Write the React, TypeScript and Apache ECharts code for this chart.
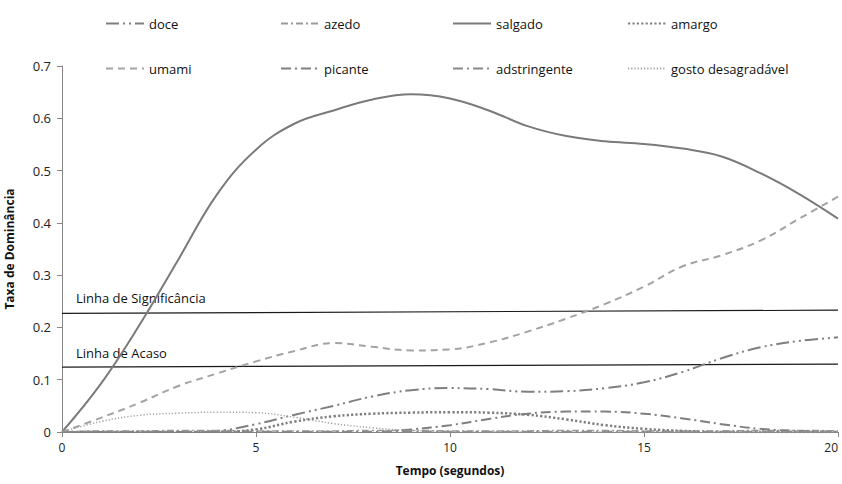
import React, { useEffect, useRef } from "react";
import * as echarts from "echarts";

const times = [0, 1, 2, 3, 4, 5, 6, 7, 8, 9, 10, 11, 12, 13, 14, 15, 16, 17, 18, 19, 20];

const doce = [0, 0, 0, 0, 0.002, 0.015, 0.033, 0.05, 0.068, 0.08, 0.084, 0.082, 0.077, 0.078, 0.084, 0.095, 0.115, 0.141, 0.162, 0.174, 0.181];
const azedo = [0, 0.002, 0.002, 0.003, 0.003, 0.002, 0.002, 0.002, 0.003, 0.003, 0.002, 0.002, 0.002, 0.003, 0.003, 0.002, 0.002, 0.002, 0.003, 0.003, 0.002];
const salgado = [0, 0.092, 0.205, 0.33, 0.455, 0.54, 0.59, 0.615, 0.636, 0.646, 0.638, 0.615, 0.585, 0.566, 0.556, 0.551, 0.542, 0.527, 0.495, 0.455, 0.408];
const amargo = [0, 0, 0, 0, 0, 0.005, 0.02, 0.03, 0.035, 0.037, 0.038, 0.037, 0.033, 0.024, 0.013, 0.006, 0.002, 0, 0, 0, 0];
const umami = [0, 0.027, 0.056, 0.088, 0.112, 0.135, 0.155, 0.17, 0.163, 0.156, 0.158, 0.171, 0.192, 0.217, 0.245, 0.278, 0.317, 0.338, 0.366, 0.408, 0.45];
const picante = [0, 0, 0, 0, 0, 0, 0, 0, 0, 0.005, 0.013, 0.025, 0.035, 0.039, 0.039, 0.035, 0.026, 0.015, 0.006, 0.002, 0];
const adstringente = [0, 0.001, 0.001, 0.001, 0.001, 0.001, 0.001, 0.001, 0.001, 0.001, 0.001, 0.001, 0.001, 0.001, 0.001, 0.001, 0.001, 0.001, 0.001, 0.001, 0.001];
const gosto = [0, 0.02, 0.032, 0.036, 0.038, 0.037, 0.028, 0.016, 0.008, 0.003, 0.001, 0, 0, 0, 0, 0, 0, 0, 0, 0, 0];

const sigLine = [0.227, 0.233];
const acasoLine = [0.124, 0.13];
const lineTimes = [0, 20];

const FONT = "'Open Sans', 'Liberation Sans', sans-serif";

function pairs(vals: number[]) {
  return times.map((t, i) => [t, vals[i]]);
}

export default function App() {
  const ref = useRef<HTMLDivElement>(null);
  useEffect(() => {
    document.body.style.margin = "0";
    if (!ref.current) return;
    const chart = echarts.init(ref.current, undefined, { renderer: "svg" });
    const mk = (name: string, vals: number[], color: string, width: number, dash: any) => ({
      name,
      type: "line",
      data: pairs(vals),
      smooth: 0.4,
      showSymbol: false,
      symbol: "none",
      lineStyle: { color, width, type: dash },
      itemStyle: { color },
      z: 3,
    });
    const legendBase = {
      orient: "vertical",
      top: 12,
      itemWidth: 38,
      itemHeight: 14,
      itemGap: 32,
      itemStyle: { opacity: 0 },
      textStyle: { fontFamily: FONT, fontSize: 13, color: "#111" },
    };
    chart.setOption({
      animation: false,
      grid: { left: 62, right: 4, top: 66, bottom: 52, outerBoundsMode: "none", containLabel: false },
      legend: [
        { ...legendBase, left: 100, data: ["doce", "umami"] },
        { ...legendBase, left: 275, data: ["azedo", "picante"] },
        { ...legendBase, left: 447, data: ["salgado", "adstringente"] },
        { ...legendBase, left: 622, data: ["amargo", "gosto desagradável"] },
      ],
      xAxis: {
        type: "value",
        min: 0,
        max: 20,
        interval: 5,
        name: "Tempo (segundos)",
        nameLocation: "middle",
        nameGap: 32,
        nameTextStyle: { fontFamily: FONT, fontSize: 12, fontWeight: "bold", color: "#111" },
        axisLine: { lineStyle: { color: "#868686", width: 1 } },
        axisTick: { show: true, length: 5, lineStyle: { color: "#868686" } },
        axisLabel: { fontFamily: FONT, fontSize: 12, color: "#222", margin: 9, alignMaxLabel: "right" },
        splitLine: { show: false },
      },
      yAxis: {
        type: "value",
        min: 0,
        max: 0.7,
        interval: 0.1,
        name: "Taxa de Dominância",
        nameLocation: "middle",
        nameGap: 47,
        nameRotate: 90,
        nameTextStyle: { fontFamily: FONT, fontSize: 12, fontWeight: "bold", color: "#111" },
        axisLine: { show: true, lineStyle: { color: "#868686", width: 1 } },
        axisTick: { show: true, length: 5, lineStyle: { color: "#868686" } },
        axisLabel: { fontFamily: FONT, fontSize: 13, color: "#222", margin: 11 },
        splitLine: { show: false },
      },
      series: [
        {
          name: "Linha de Significância",
          type: "line",
          data: lineTimes.map((t, i) => [t, sigLine[i]]),
          showSymbol: false,
          symbol: "none",
          lineStyle: { color: "#1a1a1a", width: 1.2 },
          z: 2,
        },
        {
          name: "Linha de Acaso",
          type: "line",
          data: lineTimes.map((t, i) => [t, acasoLine[i]]),
          showSymbol: false,
          symbol: "none",
          lineStyle: { color: "#1a1a1a", width: 1.2 },
          z: 2,
        },
        mk("doce", doce, "#7f7f7f", 2, [13, 4, 2, 4, 2, 4]),
        mk("azedo", azedo, "#9a9a9a", 1.6, [7, 3, 2, 3]),
        mk("salgado", salgado, "#7a7a7a", 2, "solid"),
        mk("amargo", amargo, "#7f7f7f", 2.5, [2.2, 2.2]),
        mk("umami", umami, "#a3a3a3", 2, [7, 5]),
        mk("picante", picante, "#7f7f7f", 2, [10, 4, 2, 4]),
        mk("adstringente", adstringente, "#8a8a8a", 1.6, [10, 4, 2, 4]),
        mk("gosto desagradável", gosto, "#a0a0a0", 1.5, [1.2, 2]),
      ],
      graphic: [
        {
          type: "text",
          left: 76,
          top: 291,
          style: { text: "Linha de Significância", font: `13px ${FONT}`, fill: "#111" },
        },
        {
          type: "text",
          left: 76,
          top: 346,
          style: { text: "Linha de Acaso", font: `13px ${FONT}`, fill: "#111" },
        },
      ],
    });
    return () => chart.dispose();
  }, []);
  return <div ref={ref} style={{ width: 842, height: 484 }} />;
}
